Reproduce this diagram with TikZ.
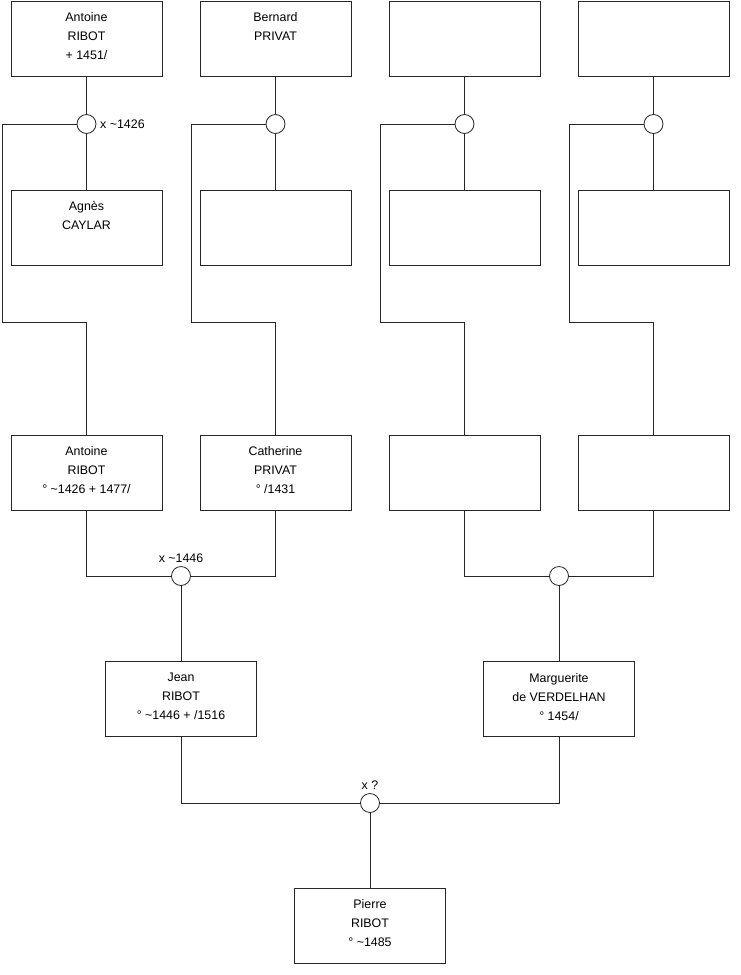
\documentclass[tikz,border=0pt]{standalone}
\usepackage{fontspec}
\setmainfont{Liberation Sans}
\begin{document}
\begin{tikzpicture}[x=1pt,y=-1pt,
 person/.style={draw=black!85, line width=0.8pt, minimum width=151pt, minimum height=75pt, inner sep=0pt, outer sep=0pt},
 btext/.style={anchor=north, inner sep=0pt, align=center, font=\fontsize{12.4}{19}\selectfont},
 union/.style={circle, draw=black!85, fill=white, line width=0.8pt, minimum size=19pt, inner sep=0pt, outer sep=0pt},
 link/.style={line width=0.8pt, draw=black!85},
 lbl/.style={inner sep=0pt, font=\fontsize{12.4}{14}\selectfont}]
\useasboundingbox (0,0) rectangle (740,975);
% row 1
\node[person] (a1) at (86.5,38.5) {};
\node[person] (a2) at (275.5,38.5) {};
\node[person] (a3) at (464.5,38.5) {};
\node[person] (a4) at (653.5,38.5) {};
% row 2
\node[person] (b1) at (86.5,227.5) {};
\node[person] (b2) at (275.5,227.5) {};
\node[person] (b3) at (464.5,227.5) {};
\node[person] (b4) at (653.5,227.5) {};
% row 3
\node[person] (r1) at (86.5,472.5) {};
\node[person] (r2) at (275.5,472.5) {};
\node[person] (r3) at (464.5,472.5) {};
\node[person] (r4) at (653.5,472.5) {};
% row 4
\node[person] (jean) at (181,699) {};
\node[person] (marg) at (559,699) {};
% row 5
\node[person] (pierre) at (370,925.5) {};
% unions
\node[union] (u1) at (86.5,124) {};
\node[union] (u2) at (275.5,124) {};
\node[union] (u3) at (464.5,124) {};
\node[union] (u4) at (653.5,124) {};
\node[union] (m1) at (181,576) {};
\node[union] (m2) at (559,576) {};
\node[union] (m3) at (370,803) {};
% links
\foreach \i in {1,2,3,4}{
  \draw[link] (a\i) -- (u\i);
  \draw[link] (u\i) -- (b\i);
}
\draw[link] (u1.west) -| (2,322) -| (r1.north);
\draw[link] (u2.west) -| (191,322) -| (r2.north);
\draw[link] (u3.west) -| (380,322) -| (r3.north);
\draw[link] (u4.west) -| (569,322) -| (r4.north);
\draw[link] (r1.south) |- (m1.west);
\draw[link] (r2.south) |- (m1.east);
\draw[link] (r3.south) |- (m2.west);
\draw[link] (r4.south) |- (m2.east);
\draw[link] (m1) -- (jean);
\draw[link] (m2) -- (marg);
\draw[link] (jean.south) |- (m3.west);
\draw[link] (marg.south) |- (m3.east);
\draw[link] (m3) -- (pierre);
% texts
\node[btext] (ta1) at ([yshift=-11.5pt]a1.north) {Antoine\\RIBOT\\+ 1451/};
\node[btext] (ta2) at ([yshift=-11.5pt]a2.north) {Bernard\\PRIVAT};
\node[btext] (tb1) at ([yshift=-11.5pt]b1.north) {Agnès\\CAYLAR};
\node[btext] (tr1) at ([yshift=-11.5pt]r1.north) {Antoine\\RIBOT\\° \textasciitilde1426 + 1477/};
\node[btext] (tr2) at ([yshift=-11.5pt]r2.north) {Catherine\\PRIVAT\\° /1431};
\node[btext] (tj) at ([yshift=-11.5pt]jean.north) {Jean\\RIBOT\\° \textasciitilde1446 + /1516};
\node[btext] (tm) at ([yshift=-11.5pt]marg.north) {Marguerite\\de VERDELHAN\\° 1454/};
\node[btext] (tp) at ([yshift=-11.5pt]pierre.north) {Pierre\\RIBOT\\° \textasciitilde1485};
% union labels
\node[lbl, anchor=west] (l1) at ([xshift=4pt]u1.east) {x \textasciitilde1426};
\node[lbl, anchor=south] (l2) at ([yshift=3.5pt]m1.north) {x \textasciitilde1446};
\node[lbl, anchor=south] (l3) at ([yshift=4pt]m3.north) {x ?};
\end{tikzpicture}
\end{document}
